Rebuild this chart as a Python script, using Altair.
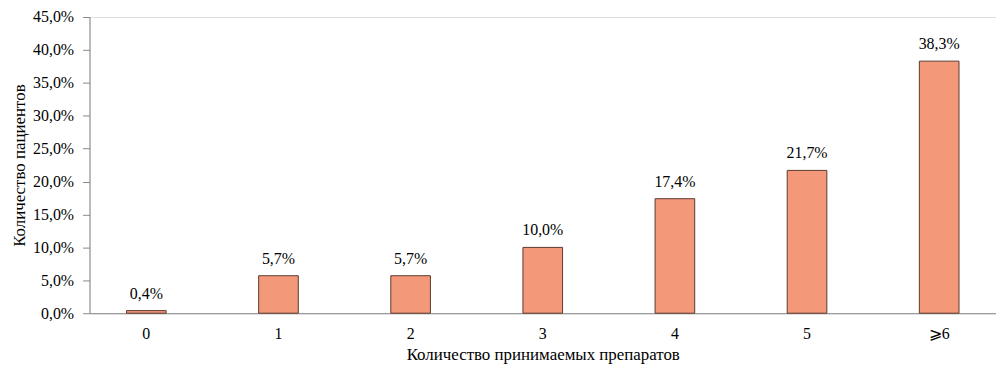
import altair as alt
import pandas as pd

categories = ["0", "1", "2", "3", "4", "5", "⩾6"]
values = [0.4, 5.7, 5.7, 10.0, 17.4, 21.7, 38.3]

df = pd.DataFrame({"cat": categories, "val": values})
df["label"] = [f"{v:.1f}%".replace(".", ",") for v in values]

FONT = "Liberation Serif"

x = alt.X("cat:N", sort=categories, title="Количество принимаемых препаратов",
          scale=alt.Scale(paddingInner=0.7, paddingOuter=0.28),
          axis=alt.Axis(labelAngle=0, ticks=False, domainColor="#888888",
                        labelFontSize=16, labelColor="black", labelPadding=12,
                        titleFontSize=17, titleFontWeight="normal", titleColor="black",
                        titlePadding=6, labelFont=FONT, titleFont=FONT))
y = alt.Y("val:Q", title="Количество пациентов",
          scale=alt.Scale(domain=[0, 45]),
          axis=alt.Axis(values=list(range(0, 50, 5)), grid=False, labelOverlap=False,
                        labelExpr="replace(format(datum.value, '.1f'), '.', ',') + '%'",
                        domainColor="#888888", tickColor="#888888", tickSize=7,
                        labelFontSize=16, labelColor="black", labelPadding=9,
                        titleFontSize=17, titleFontWeight="normal", titleColor="black",
                        titlePadding=4, labelFont=FONT, titleFont=FONT))

base = alt.Chart(df).encode(x=x, y=y)
bars = base.mark_bar(color="#F4987A", stroke="#5a3a30", strokeWidth=1)
text = base.mark_text(dy=-17, fontSize=16, font=FONT, color="black").encode(text="label:N")

chart = (bars + text).properties(
    width=912, height=298,
    autosize=alt.AutoSizeParams(type="none"),
    padding={"left": 82, "top": 8, "right": 0, "bottom": 50},
).configure_view(stroke=None).configure(font=FONT)

chart.save("out.html", embed_options={"renderer": "svg", "actions": False})
